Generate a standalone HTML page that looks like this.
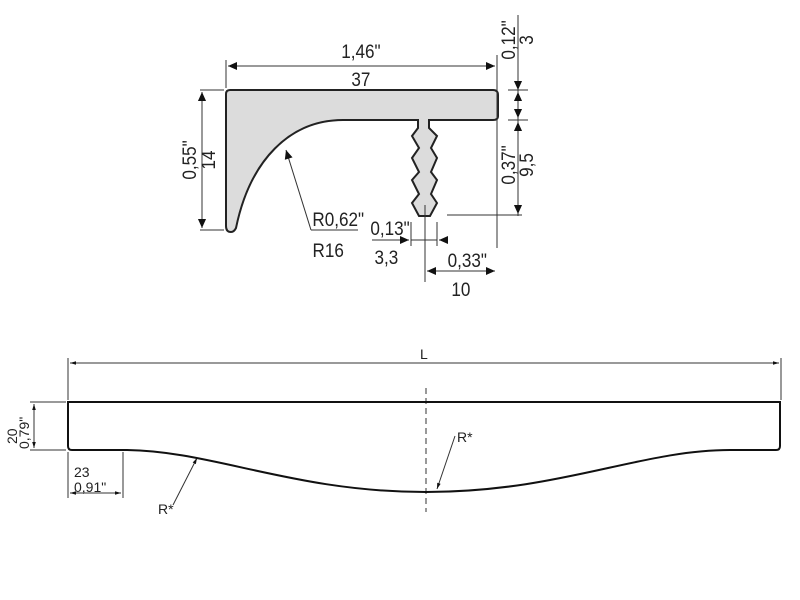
<!DOCTYPE html>
<html><head><style>body{margin:0;background:#fff}svg{display:block}</style></head><body>
<svg width="800" height="600" viewBox="0 0 800 600" xmlns="http://www.w3.org/2000/svg" font-family="Liberation Sans, sans-serif">
<defs>
<marker id="a" viewBox="0 0 10 10" refX="10" refY="5" markerWidth="13" markerHeight="9" orient="auto-start-reverse" markerUnits="userSpaceOnUse"><path d="M0,0.5 L10,5 L0,9.5 z" fill="#111"/></marker>
<marker id="b" viewBox="0 0 10 10" refX="10" refY="5" markerWidth="9" markerHeight="6" orient="auto-start-reverse" markerUnits="userSpaceOnUse"><path d="M0,2 L10,5 L0,8 z" fill="#111"/></marker>
</defs>
<path d="M226,94 Q226,90 230,90 L493,90 Q498,90 498,95 L498,116 Q498,120 493,120 L429,120 L429,128 L437,136 L431,148 L437,158 L431,172 L437,180 L431,194 L437,203 L430,216 L419,216 L412,203 L419,194 L412,180 L419,172 L412,158 L419,148 L412,136 L418,128 L418,120 L343,120 C290,120 250,160 236,228 Q234,232 231,232 Q226,232 226,226 Z" fill="#dcdcdc" stroke="#222" stroke-width="2"/>
<g stroke="#333" stroke-width="1" fill="none">
<line x1="226" y1="60" x2="226" y2="88"/>
<line x1="497" y1="55" x2="497" y2="248"/>
<line x1="228" y1="66" x2="495" y2="66" marker-start="url(#a)" marker-end="url(#a)"/>
<line x1="518" y1="15" x2="518" y2="216"/>
<line x1="518" y1="70" x2="518" y2="90" marker-end="url(#a)"/>
<line x1="518" y1="92" x2="518" y2="118" marker-start="url(#a)" marker-end="url(#a)"/>
<line x1="518" y1="122" x2="518" y2="214" marker-start="url(#a)" marker-end="url(#a)"/>
<line x1="508" y1="90" x2="528" y2="90"/>
<line x1="508" y1="120" x2="528" y2="120"/>
<line x1="447" y1="215" x2="522" y2="215"/>
<line x1="200" y1="90" x2="224" y2="90"/>
<line x1="200" y1="230" x2="224" y2="230"/>
<line x1="202" y1="92" x2="202" y2="228" marker-start="url(#a)" marker-end="url(#a)"/>
<line x1="311" y1="230" x2="286" y2="150" marker-end="url(#a)"/>
<line x1="311" y1="230" x2="358" y2="230"/>
<line x1="411" y1="222" x2="411" y2="246"/>
<line x1="437" y1="222" x2="437" y2="246"/>
<line x1="372" y1="240" x2="409" y2="240" marker-end="url(#a)"/>
<line x1="411" y1="240" x2="437" y2="240"/>
<line x1="448" y1="240" x2="439" y2="240" marker-end="url(#a)"/>
<line x1="425" y1="205" x2="425" y2="282"/>
<line x1="427" y1="271" x2="495" y2="271" marker-start="url(#a)" marker-end="url(#a)"/>
</g>
<g fill="#222" font-size="19" text-anchor="middle">
<text x="361" y="58" transform="translate(36,0) scale(0.9,1)">1,46"</text>
<text x="361" y="86" transform="translate(36,0) scale(0.9,1)">37</text>
<text x="338" y="226" transform="translate(34,0) scale(0.9,1)">R0,62"</text>
<text x="328" y="257" transform="translate(33,0) scale(0.9,1)">R16</text>
<text x="390" y="235" transform="translate(39,0) scale(0.9,1)">0,13"</text>
<text x="386" y="264" transform="translate(39,0) scale(0.9,1)">3,3</text>
<text x="467" y="267" transform="translate(47,0) scale(0.9,1)">0,33"</text>
<text x="461" y="296" transform="translate(46,0) scale(0.9,1)">10</text>
<text transform="translate(196,160) rotate(-90) scale(0.9,1)">0,55"</text>
<text transform="translate(215,160) rotate(-90) scale(0.9,1)">14</text>
<text transform="translate(515,40) rotate(-90) scale(0.9,1)">0,12"</text>
<text transform="translate(533,40) rotate(-90) scale(0.9,1)">3</text>
<text transform="translate(515,165) rotate(-90) scale(0.9,1)">0,37"</text>
<text transform="translate(533,165) rotate(-90) scale(0.9,1)">9,5</text>
</g>
<g stroke="#333" stroke-width="1" fill="none">
<line x1="68" y1="358" x2="68" y2="400"/>
<line x1="781" y1="358" x2="781" y2="400"/>
<line x1="70" y1="363" x2="779" y2="363" marker-start="url(#b)" marker-end="url(#b)"/>
<line x1="426" y1="388" x2="426" y2="512" stroke-dasharray="6,4"/>
<line x1="30" y1="402" x2="66" y2="402"/>
<line x1="30" y1="450" x2="66" y2="450"/>
<line x1="34" y1="404" x2="34" y2="448" marker-start="url(#b)" marker-end="url(#b)"/>
<line x1="123" y1="452" x2="123" y2="498"/>
<line x1="68" y1="452" x2="68" y2="498"/>
<line x1="70" y1="493" x2="121" y2="493" marker-start="url(#b)" marker-end="url(#b)"/>
<line x1="173" y1="505" x2="197" y2="458" marker-end="url(#b)"/>
<line x1="455" y1="436" x2="437" y2="489" marker-end="url(#b)"/>
</g>
<path d="M68,402 L780,402 L780,446 Q780,450 776,450 L730,450 C640,450 560,492 426,492 C292,492 212,450 123,450 L72,450 Q68,450 68,446 Z" fill="none" stroke="#111" stroke-width="2"/>
<g fill="#222" font-size="14">
<text x="420" y="359">L</text>
<text x="74" y="477">23</text>
<text x="74" y="492">0,91"</text>
<text x="158" y="514">R*</text>
<text x="457" y="442">R*</text>
<text transform="translate(17,444) rotate(-90)">20</text>
<text transform="translate(29,449) rotate(-90)">0,79"</text>
</g>
</svg>
</body></html>
